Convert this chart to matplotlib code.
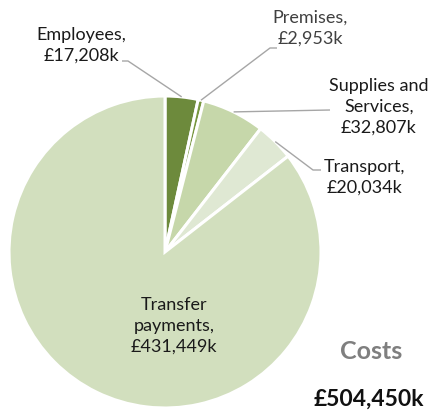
import matplotlib.pyplot as plt
import numpy as np

# Cost breakdown (£k)
categories = ['Employees', 'Premises', 'Supplies and\nServices', 'Transport', 'Transfer\npayments']
values = [17208, 2953, 32807, 20034, 431449]
colors = ['#6d8a3c', '#77963f', '#c6d7aa', '#dfe8d3', '#d2dfbe']
total_label = '£504,450k'

W, H = 432, 414
fig = plt.figure(figsize=(W / 100, H / 100), dpi=100)
ax = fig.add_axes([0, 0, 1, 1])

plt.rcParams['font.family'] = ['Lato', 'DejaVu Sans']

cx, cy, r = 165, H - 253, 156
wedges, _ = ax.pie(values, colors=colors, startangle=90, counterclock=False,
                   center=(cx, cy), radius=r, frame=True,
                   wedgeprops=dict(edgecolor='white', linewidth=2.2))
ax.set_xlim(0, W)
ax.set_ylim(0, H)
ax.set_aspect('equal')
ax.axis('off')

labels = [f'{c},\n£{v:,}k' for c, v in zip(categories, values)]

# label positions (pixels from top-left) and leader elbows
label_pos = [(81, 45), (310, 28), (379, 107), (365, 177)]
elbows = [[(128, 62), (122, 62)], [(270, 49), (277, 49)], [(330, 111)], [(313, 171), (321, 171)]]

for i in range(4):
    w = wedges[i]
    mid = np.deg2rad((w.theta1 + w.theta2) / 2)
    px, py = cx + r * np.cos(mid), cy + r * np.sin(mid)
    xs = [px] + [e[0] for e in elbows[i]]
    ys = [py] + [H - e[1] for e in elbows[i]]
    ax.plot(xs, ys, color='#a6a6a6', lw=1.0, solid_capstyle='butt')
    tx, ty = label_pos[i]
    ax.text(tx, H - ty, labels[i], ha='center', va='center', fontsize=13,
            color='#1a1a1a' if i != 1 else '#404040', linespacing=1.38)

ax.text(174, H - 326, labels[4], ha='center', va='center', fontsize=13,
        color='#1a1a1a', linespacing=1.38)

ax.text(371, H - 352, 'Costs', ha='center', va='center', fontsize=18,
        fontweight='bold', color='#7f7f7f')
ax.text(369, H - 399, total_label, ha='center', va='center', fontsize=16.5,
        fontweight='bold', color='#111111')

fig.savefig('out.png', dpi=100)
